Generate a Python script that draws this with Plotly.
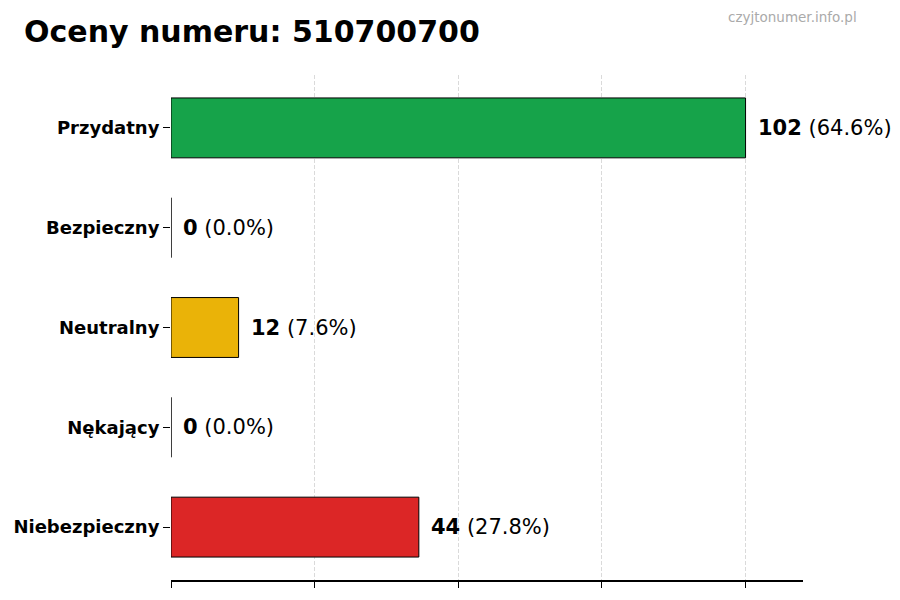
import plotly.graph_objects as go

categories = ["Przydatny", "Bezpieczny", "Neutralny", "Nękający", "Niebezpieczny"]
counts = [102, 0, 12, 0, 44]
percents = [64.6, 0.0, 7.6, 0.0, 27.8]
colors = ["#16a34a", "#16a34a", "#eab308", "#dc2626", "#dc2626"]
title_text = "Oceny numeru: 510700700"
watermark = "czyjtonumer.info.pl"

FONT = "DejaVu Sans"
ypos = list(range(len(categories)))
xmax = max(counts)
ticks = [xmax * i / 4 for i in range(5)]

fig = go.Figure()
fig.add_trace(go.Bar(
    x=counts, y=ypos, orientation="h", width=0.6,
    marker=dict(color=colors, line=dict(color="black", width=1)),
    hoverinfo="skip",
))

for c, p, y in zip(counts, percents, ypos):
    fig.add_annotation(
        x=c, y=y, xref="x", yref="y", xanchor="left", yanchor="middle",
        xshift=10, showarrow=False,
        text=f"<b>{c}</b> ({p:.1f}%)",
        font=dict(family=FONT, size=21, color="black"),
    )

fig.add_annotation(
    xref="paper", yref="paper", x=-0.2358, y=1.0, yshift=44,
    xanchor="left", yanchor="middle", showarrow=False,
    text=f"<b>{title_text}</b>",
    font=dict(family=FONT, size=30, color="black"),
)
fig.add_annotation(
    xref="paper", yref="paper", x=1.0886, y=1.0, yshift=58,
    xanchor="right", yanchor="middle", showarrow=False,
    text=watermark,
    font=dict(family=FONT, size=13.5, color="#aaaaaa"),
)

fig.update_layout(
    width=900, height=600,
    margin=dict(l=163, r=105, t=67, b=28, autoexpand=False),
    paper_bgcolor="white", plot_bgcolor="white",
    showlegend=False,
)

fig.update_xaxes(
    range=[0, xmax * 1.1], tickvals=ticks, ticktext=[""] * 5,
    showgrid=True, gridcolor="#dadada", griddash="4px,2px", gridwidth=1,
    showline=True, linecolor="black", linewidth=1.5,
    ticks="outside", ticklen=6, tickcolor="black", zeroline=False,
    automargin=False,
)
fig.update_yaxes(
    range=[4.53, -0.53], tickvals=ypos, ticktext=[f"<b>{c}</b>" for c in categories],
    tickfont=dict(family=FONT, size=18, color="black"),
    showgrid=False, showline=False, zeroline=False,
    ticks="outside", ticklen=7, tickcolor="black",
    automargin=False,
)

fig.write_html("out.html")
